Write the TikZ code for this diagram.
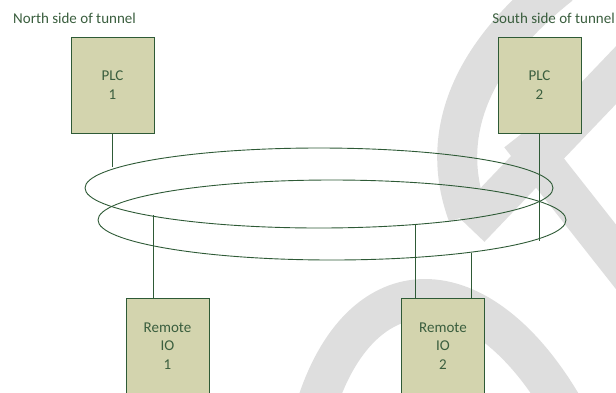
\documentclass[tikz,border=0pt]{standalone}
\usepackage{fontspec}
\setmainfont{Carlito}
\usetikzlibrary{shapes.geometric, positioning}
\definecolor{boxfill}{HTML}{D3D4AE}
\definecolor{linegreen}{HTML}{2E5A36}
\definecolor{textgreen}{HTML}{3A5E3E}
\definecolor{markgrey}{HTML}{DEDEDE}

\begin{document}
\begin{tikzpicture}[
    x=1pt, y=-1pt,
    box/.style={
      draw=linegreen, line width=1pt, fill=boxfill, inner sep=0pt,
      minimum width=83pt, minimum height=96pt, align=center,
      text=textgreen, font=\fontsize{15}{18.5}\selectfont
    },
    ring/.style={
      ellipse, draw=linegreen, line width=0.9pt, inner sep=0pt, outer sep=0pt,
      minimum width=468pt, minimum height=80pt
    },
    link/.style={draw=linegreen, line width=0.9pt},
    side/.style={inner sep=0pt, text=textgreen, font=\fontsize{15}{18}\selectfont},
    wmark/.style={draw=markgrey, line width=40pt},
  ]
    \useasboundingbox (0,0) rectangle (616,392);

    % --- Background mark ---
    \draw[wmark] (560,-15) .. controls (465,60) and (440,140) .. (468,215);
    \draw[wmark] (640,50) -- (470,228);
    \draw[wmark] (520,135) -- (650,300);
    \draw[wmark] (315,410) .. controls (360,262) and (480,262) .. (565,410);

    % --- Rings ---
    \node[ring] (ringA) at (319,188) {};
    \node[ring] (ringB) at (332,220) {};

    % --- Controllers ---
    \node[box] (plcA) at (112.5,85) {PLC\\1};
    \node[box] (plcB) at (539.5,85) {PLC\\2};

    % --- Remote IO ---
    \node[box] (rioA) at (167.5,346) {Remote\\IO\\1};
    \node[box] (rioB) at (443,346)   {Remote\\IO\\2};

    % --- Side labels ---
    \node[side, anchor=base west] (north) at (13,23)  {North side of tunnel};
    \node[side, anchor=base east] (south) at (615,23) {South side of tunnel};

    % --- Links ---
    \draw[link] (plcA.south) -- (plcA.south |- ringA.174.74);
    \draw[link] (plcB.south) -- (plcB.south |- ringB.354.85);
    \draw[link] ([xshift=-14.5pt]rioA.north) -- ([xshift=-14.5pt]rioA.north |- ringA.189.64);
    \draw[link] ([xshift=-28pt]rioB.north) -- ([xshift=-28pt]rioB.north |- ringA.339.19);
    \draw[link] ([xshift=28pt]rioB.north) -- ([xshift=28pt]rioB.north |- ringB.346.97);
  \end{tikzpicture}
\end{document}
